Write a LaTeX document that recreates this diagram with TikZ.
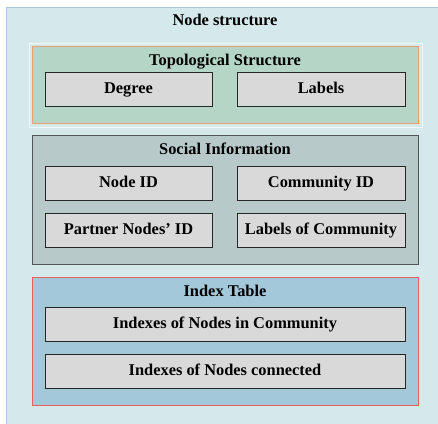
\documentclass[tikz,border=0pt]{standalone}
\usepackage{fontspec}
\setmainfont{Liberation Serif}
\usetikzlibrary{shadows}
\definecolor{outerfill}{HTML}{D5E8EA}
\definecolor{outerline}{HTML}{A8C6DE}
\definecolor{topofill}{HTML}{B5D5C6}
\definecolor{topoline}{HTML}{E8A070}
\definecolor{socfill}{HTML}{B8C9CA}
\definecolor{socline}{HTML}{505555}
\definecolor{idxfill}{HTML}{A3C8DA}
\definecolor{idxline}{HTML}{E86060}
\definecolor{itemfill}{HTML}{D9D9D9}
\tikzset{
  x=1pt, y=-1pt,
  item/.style={draw=black!85, line width=0.8pt, fill=itemfill, font=\bfseries\fontsize{16.4}{18}\selectfont,
    text height=0.8em, text depth=0em,
    drop shadow={shadow xshift=0.6pt, shadow yshift=-0.6pt, fill=black!40, opacity=0.6}},
  ttl/.style={font=\bfseries\fontsize{16.4}{18}\selectfont, inner sep=0pt, text height=0.8em, text depth=0em},
  group/.style={line width=0.8pt}
}
\begin{document}
\begin{tikzpicture}
\useasboundingbox (0,0) rectangle (438,423);
\fill[white] (0,0) rectangle (438,423);
% outer
\draw[fill=outerfill, draw=outerline, line width=1.2pt] (6.5,7.5) rectangle (445,430);
\node[ttl] (title) at (225,21) {Node structure};
% topological
\draw[draw=white!70!outerfill, line width=0.8pt] (29,43) rectangle (422,127);
\draw[group, fill=topofill, draw=topoline] (32,46) rectangle (418,123);
\node[ttl] (topo) at (225,61) {Topological Structure};
\node[item, minimum width=167pt, minimum height=34pt] (deg) at (128.5,89) {Degree};
\node[item, minimum width=168pt, minimum height=34pt] (lab) at (321,89) {Labels};
% social
\draw[group, fill=socfill, draw=socline] (32,135) rectangle (418,264);
\node[ttl] (soc) at (225,150) {Social Information};
\node[item, minimum width=167pt, minimum height=34pt] (nid) at (128.5,183) {Node ID};
\node[item, minimum width=168pt, minimum height=34pt] (cid) at (321,183) {Community ID};
\node[item, minimum width=167pt, minimum height=34pt] (pid) at (128.5,230) {Partner Nodes’ ID};
\node[item, minimum width=168pt, minimum height=34pt] (loc) at (321,230) {Labels of Community};
% index
\draw[group, fill=idxfill, draw=idxline] (32,277) rectangle (418,405);
\node[ttl] (idx) at (225,292) {Index Table};
\node[item, minimum width=360pt, minimum height=34pt] (inc) at (225,324) {Indexes of Nodes in Community};
\node[item, minimum width=360pt, minimum height=34pt] (icn) at (225,371) {Indexes of Nodes connected};
\end{tikzpicture}
\end{document}
